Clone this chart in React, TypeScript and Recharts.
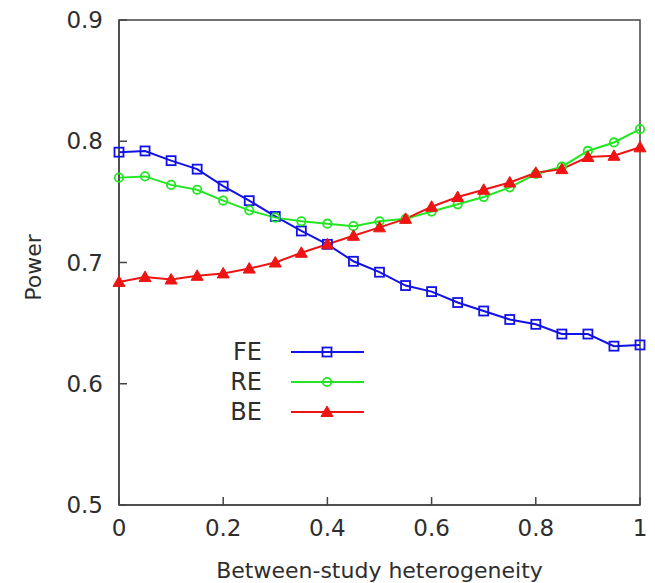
import React from 'react';
import { LineChart, Line, XAxis, YAxis, Legend, ReferenceArea, Label } from 'recharts';

const heterogeneity = [0, 0.05, 0.1, 0.15, 0.2, 0.25, 0.3, 0.35, 0.4, 0.45, 0.5, 0.55, 0.6, 0.65, 0.7, 0.75, 0.8, 0.85, 0.9, 0.95, 1];
const powerFE = [0.791, 0.792, 0.784, 0.777, 0.763, 0.751, 0.738, 0.726, 0.715, 0.701, 0.692, 0.681, 0.676, 0.667, 0.66, 0.653, 0.649, 0.641, 0.641, 0.631, 0.632];
const powerRE = [0.77, 0.771, 0.764, 0.76, 0.751, 0.743, 0.737, 0.734, 0.732, 0.73, 0.734, 0.736, 0.742, 0.748, 0.754, 0.762, 0.773, 0.779, 0.792, 0.799, 0.81];
const powerBE = [0.684, 0.688, 0.686, 0.689, 0.691, 0.695, 0.7, 0.708, 0.715, 0.722, 0.729, 0.736, 0.746, 0.754, 0.76, 0.766, 0.774, 0.777, 0.787, 0.788, 0.795];
const xTicks = [0, 0.2, 0.4, 0.6, 0.8, 1];
const yTicks = [0.5, 0.6, 0.7, 0.8, 0.9];

const data = heterogeneity.map((h, i) => ({ h, FE: powerFE[i], RE: powerRE[i], BE: powerBE[i] }));

const FONT = '"DejaVu Sans", sans-serif';
const TEXT = '#2e2e2e';
const FRAME = '#444';

const BLUE = '#1212e6';
const GREEN = '#22e622';
const RED = '#ee1414';

type Shape = 'square' | 'circle' | 'triangle';

const marker = (shape: Shape, color: string, cx: number, cy: number, key?: string | number) => {
  if (shape === 'square') {
    return <rect key={key} x={cx - 4.5} y={cy - 4.5} width={9} height={9} fill="none" stroke={color} strokeWidth={1.8} />;
  }
  if (shape === 'circle') {
    return <circle key={key} cx={cx} cy={cy} r={4.2} fill="none" stroke={color} strokeWidth={1.8} />;
  }
  return <path key={key} d={`M${cx},${cy - 6}L${cx + 6},${cy + 4.5}L${cx - 6},${cy + 4.5}Z`} fill={color} stroke={color} strokeWidth={1} />;
};

const series = [
  { key: 'FE', color: BLUE, shape: 'square' as Shape },
  { key: 'RE', color: GREEN, shape: 'circle' as Shape },
  { key: 'BE', color: RED, shape: 'triangle' as Shape },
];

const YTick = (props: any) => {
  const { x, y, payload } = props;
  return (
    <g>
      <line x1={x + 16} x2={x + 24} y1={y} y2={y} stroke={FRAME} strokeWidth={1.5} />
      <text x={x} y={y} textAnchor="end" dominantBaseline="central" fontSize={23} fontFamily={FONT} fill={TEXT}>
        {payload.value.toFixed(1)}
      </text>
    </g>
  );
};

const XTick = (props: any) => {
  const { x, y, payload } = props;
  return (
    <g>
      <line x1={x} x2={x} y1={y - 14} y2={y - 22} stroke={FRAME} strokeWidth={1.5} />
      <text x={x} y={y} dy="0.75em" textAnchor="middle" fontSize={23} fontFamily={FONT} fill={TEXT}>
        {payload.value}
      </text>
    </g>
  );
};

const LegendBox = () => (
  <div style={{ fontFamily: FONT, color: TEXT }}>
    {series.map((s) => (
      <div key={s.key} style={{ display: 'flex', alignItems: 'center', height: 30 }}>
        <span style={{ width: 42, textAlign: 'right', fontSize: 24 }}>{s.key}</span>
        <svg width={76} height={20} style={{ marginLeft: 28 }}>
          <line x1={1} x2={74} y1={10} y2={10} stroke={s.color} strokeWidth={2} />
          {marker(s.shape, s.color, 37, 10)}
        </svg>
      </div>
    ))}
  </div>
);

export default function App() {
  return (
    <div style={{ position: 'absolute', left: 0, top: 0, width: 655, height: 583, background: '#fff' }}>
      <LineChart width={655} height={583} data={data} margin={{ top: 20, right: 15, bottom: 48, left: 59 }}>
        <XAxis
          dataKey="h"
          type="number"
          domain={[0, 1]}
          ticks={xTicks}
          tickSize={0}
          tickMargin={14}
          tick={<XTick />}
          axisLine={{ stroke: FRAME, strokeWidth: 1.5 }}
          height={30}
        >
          <Label
            content={(p: any) => {
              const vb = p.viewBox;
              return (
                <text x={vb.x + vb.width / 2} y={570} textAnchor="middle" dominantBaseline="central" fontSize={22} fontFamily={FONT} fill={TEXT}>
                  Between-study heterogeneity
                </text>
              );
            }}
          />
        </XAxis>
        <YAxis
          type="number"
          domain={[0.5, 0.9]}
          ticks={yTicks}
          tickSize={0}
          tickMargin={16}
          tick={<YTick />}
          axisLine={{ stroke: FRAME, strokeWidth: 1.5 }}
          width={60}
        >
          <Label
            content={(p: any) => {
              const vb = p.viewBox;
              const cy = vb.y + vb.height / 2 + 5;
              return (
                <text x={33} y={cy} transform={`rotate(-90, 33, ${cy})`} textAnchor="middle" dominantBaseline="central" fontSize={22} fontFamily={FONT} fill={TEXT}>
                  Power
                </text>
              );
            }}
          />
        </YAxis>
        <ReferenceArea x1={0} x2={1} y1={0.5} y2={0.9} fill="none" stroke={FRAME} strokeWidth={1.5} ifOverflow="visible" />
        {series.map((s) => (
          <Line
            key={s.key}
            dataKey={s.key}
            stroke={s.color}
            strokeWidth={2}
            isAnimationActive={false}
            dot={(p: any) => marker(s.shape, s.color, p.cx, p.cy, p.index)}
            activeDot={false}
          />
        ))}
        <Legend
          layout="vertical"
          align="center"
          verticalAlign="middle"
          content={<LegendBox />}
          wrapperStyle={{ position: 'absolute', left: 220, top: 337, width: 160 }}
        />
      </LineChart>
    </div>
  );
}
